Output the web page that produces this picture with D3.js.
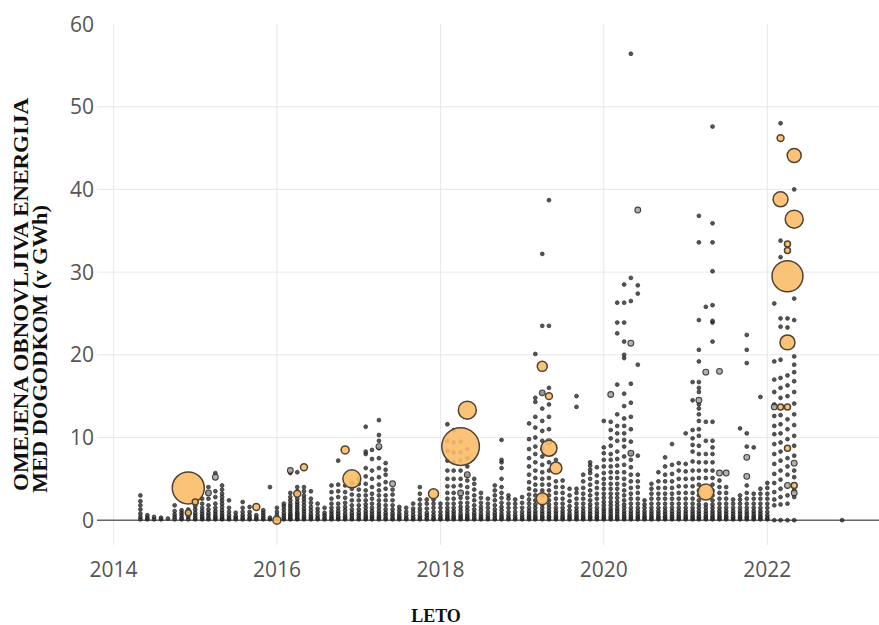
<!DOCTYPE html>
<html>
<head>
<meta charset="utf-8">
<script src="https://cdn.jsdelivr.net/npm/d3@7"></script>
<style>
  body { margin: 0; background: #fff; }
  svg { display: block; }
</style>
</head>
<body>
<svg id="chart" width="879" height="625"></svg>
<script>
// tick labels
const yearTicks = [2014, 2016, 2018, 2020, 2022];
const energyTicks = [0, 10, 20, 30, 40, 50, 60];

// small events: month -> curtailed energy per event (GWh)
const monthColumns = [
  ['2014-05', '0.1 0.4 0.8 1.3 1.8 2.3 3.0'],
  ['2014-06', '0.1 0.3 0.6'],
  ['2014-07', '0.1 0.4'],
  ['2014-08', '0.1 0.3'],
  ['2014-09', '0.2'],
  ['2014-10', '0.1 0.4 0.7 1.1 1.8'],
  ['2014-11', '0.1 0.3 0.6 0.9 1.2'],
  ['2014-12', '0.1 0.4 0.7 1.0 1.3'],
  ['2015-01', '0.1 0.3 0.6 0.9 1.3 1.7 2.2'],
  ['2015-02', '0.1 0.3 0.5 0.8 1.1 1.5 2.0 2.6'],
  ['2015-03', '0.1 0.3 0.6 0.9 1.3 1.8 2.6 3.3 4.0'],
  ['2015-04', '0.1 0.3 0.5 0.8 1.1 1.5 2.0 2.8 3.5 5.7'],
  ['2015-05', '0.1 0.2 0.4 0.6 0.9 1.2 1.6 2.0 2.4 2.8 3.2 3.7 4.2'],
  ['2015-06', '0.1 0.3 0.6 1.0 1.5 2.4'],
  ['2015-07', '0.1 0.3 0.5 0.9'],
  ['2015-08', '0.1 0.3 0.6 1.0 1.5 2.2'],
  ['2015-09', '0.1 0.3 0.6 1.0 1.6'],
  ['2015-10', '0.1 0.3 0.6'],
  ['2015-11', '0.1 0.3 0.6 0.9 1.2'],
  ['2015-12', '0.1 0.3 4.0'],
  ['2016-01', '0.1 0.3 0.6 1.0 1.5'],
  ['2016-02', '0.1 0.3 0.6 0.9 1.3 1.7 2.0'],
  ['2016-03', '0.1 0.2 0.4 0.6 0.8 1.1 1.4 1.7 2.0 2.4 2.8 3.3 5.7'],
  ['2016-04', '0.1 0.2 0.4 0.6 0.8 1.0 1.3 1.6 1.9 2.2 2.6 3.0 3.5 4.0 5.8'],
  ['2016-05', '0.1 0.3 0.5 0.8 1.1 1.4 1.8 2.2 2.6 3.0 3.5 4.0'],
  ['2016-06', '0.1 0.3 0.5 0.8 1.2 1.6 2.1 2.6 3.5'],
  ['2016-07', '0.1 0.3 0.6 1.0 1.4 2.0'],
  ['2016-08', '0.1 0.3 0.6 0.9 1.5'],
  ['2016-09', '0.1 0.3 0.5 0.8 1.1 1.5 2.0 2.6 3.4 4.2'],
  ['2016-10', '0.1 0.3 0.5 0.8 1.1 1.5 2.0 2.8 3.5 4.3 7.2'],
  ['2016-11', '0.1 0.3 0.5 0.8 1.2 1.6 2.1 2.7 3.4 4.2'],
  ['2016-12', '0.1 0.3 0.6 0.9 1.3 1.8 2.4 3.1 3.8 4.5'],
  ['2017-01', '0.1 0.3 0.6 0.9 1.3 1.8 2.4 3.0 3.7 4.4 5.0'],
  ['2017-02', '0.1 0.3 0.5 0.8 1.1 1.5 1.9 2.4 3.0 3.6 4.4 5.3 6.3 8.0 8.3 11.3'],
  ['2017-03', '0.1 0.3 0.5 0.8 1.1 1.5 2.0 2.6 3.2 4.0 5.0 6.0 7.4 8.5'],
  ['2017-04', '0.1 0.3 0.5 0.8 1.1 1.5 1.9 2.4 3.0 3.6 4.3 5.2 6.3 7.5 8.7 9.6 10.3 12.1'],
  ['2017-05', '0.1 0.3 0.6 0.9 1.3 1.8 2.4 3.0 3.8 4.6 5.5 6.1 6.9'],
  ['2017-06', '0.1 0.3 0.6 0.9 1.3 1.8 2.4 3.1 3.7'],
  ['2017-07', '0.1 0.3 0.5 0.8 1.2 1.6'],
  ['2017-08', '0.1 0.3 0.6 1.0 1.5'],
  ['2017-09', '0.1 0.3 0.6 1.0 1.4 2.0'],
  ['2017-10', '0.1 0.3 0.6 1.0 1.4 1.9 2.5 3.2 4.0'],
  ['2017-11', '0.1 0.3 0.6 0.9 1.4 2.0 2.5'],
  ['2017-12', '0.1 0.3 0.6 1.0 1.5 2.0 2.5'],
  ['2018-01', '0.1 0.3 0.6 1.0 1.5 2.0'],
  ['2018-02', '0.1 0.3 0.5 0.8 1.1 1.5 2.0 2.6 3.3 4.1 5.0 6.0 7.2 8.4 9.6 11.6'],
  ['2018-03', '0.1 0.3 0.5 0.8 1.1 1.5 2.0 2.6 3.3 4.1 5.0 6.0 7.0 8.2 9.4 10.9'],
  ['2018-04', '0.1 0.3 0.5 0.8 1.2 1.6 2.1 2.7 3.4 4.2 5.0 6.0 7.2 8.2 9.5'],
  ['2018-05', '0.1 0.3 0.5 0.8 1.2 1.6 2.1 2.7 3.3 4.0 4.8 5.5 6.5 7.5 8.6'],
  ['2018-06', '0.1 0.3 0.6 0.9 1.3 1.8 2.4 3.0 3.7 4.4 5.0'],
  ['2018-07', '0.1 0.3 0.5 0.8 1.2 1.6 2.1 2.7 3.3'],
  ['2018-08', '0.1 0.3 0.6 1.0 1.5 2.0 2.6'],
  ['2018-09', '0.1 0.3 0.6 0.9 1.3 1.8 2.4 3.0 3.6 4.2'],
  ['2018-10', '0.1 0.3 0.5 0.8 1.2 1.6 2.1 2.7 3.3 4.0 5.0 6.3 7.0 7.3 9.7'],
  ['2018-11', '0.1 0.3 0.6 1.0 1.5 2.0 2.6 3.0'],
  ['2018-12', '0.1 0.3 0.6 1.0 1.5 2.0 2.5'],
  ['2019-01', '0.1 0.3 0.6 1.0 1.5 2.1 2.8'],
  ['2019-02', '0.1 0.3 0.5 0.8 1.1 1.5 2.0 2.5 3.1 3.8 4.6 5.5 6.5 7.5 8.6 9.8 11.7'],
  ['2019-03', '0.1 0.3 0.5 0.8 1.1 1.5 1.9 2.4 3.0 3.6 4.3 5.1 6.0 7.0 8.0 8.9 10.0 11.2 12.5 14.3 14.8 20.1'],
  ['2019-04', '0.1 0.3 0.5 0.8 1.1 1.5 1.9 3.0 3.6 4.3 5.0 5.8 6.7 7.7 8.6 9.6 10.8 12.0 13.5 15.4 23.5 32.2'],
  ['2019-05', '0.1 0.3 0.5 0.8 1.1 1.5 1.9 2.4 3.0 3.6 4.3 5.1 6.0 7.0 11.0 12.5 14.0 16.0 23.5 38.7'],
  ['2019-06', '0.1 0.3 0.5 0.8 1.1 1.5 2.0 2.6 3.3 4.0 4.7 7.3'],
  ['2019-07', '0.1 0.3 0.5 0.8 1.1 1.5 2.0 2.6 3.3 4.0 4.8'],
  ['2019-08', '0.1 0.3 0.5 0.8 1.2 1.7 2.3 3.0 3.8'],
  ['2019-09', '0.1 0.3 0.5 0.8 1.1 1.5 2.0 2.6 3.3 3.8 13.7 15.0'],
  ['2019-10', '0.1 0.3 0.5 0.8 1.1 1.5 2.0 2.6 3.2 3.9 4.7 5.5'],
  ['2019-11', '0.1 0.3 0.5 0.8 1.1 1.5 1.9 2.4 3.0 3.6 4.3 5.0 5.7 6.1 6.6 7.0'],
  ['2019-12', '0.1 0.3 0.5 0.8 1.1 1.5 2.0 2.6 3.2 3.9 4.6 5.4 6.4'],
  ['2020-01', '0.1 0.3 0.5 0.8 1.1 1.4 1.8 2.2 2.7 3.2 3.8 4.4 5.0 5.7 6.5 7.3 8.1 8.8 12.0'],
  ['2020-02', '0.1 0.3 0.5 0.8 1.1 1.4 1.8 2.2 2.7 3.2 3.8 4.4 5.1 5.8 6.5 7.3 8.0 9.0 9.9 10.9 11.9'],
  ['2020-03', '0.1 0.3 0.5 0.8 1.1 1.4 1.8 2.2 2.7 3.2 3.8 4.4 5.1 5.8 6.6 7.4 8.3 9.6 10.5 11.4 12.8 16.4 22.6 23.9 26.3'],
  ['2020-04', '0.1 0.3 0.5 0.8 1.1 1.5 1.9 2.4 3.0 3.6 4.3 5.0 5.8 6.7 7.7 8.9 9.7 10.5 11.4 12.3 13.8 15.3 19.6 20.0 21.6 23.9 26.3 28.5'],
  ['2020-05', '0.1 0.3 0.5 0.8 1.1 1.5 2.0 2.6 3.2 3.9 4.7 5.5 6.4 7.3 8.1 9.5 11.0 12.5 14.2 16.5 26.5 29.3 56.4'],
  ['2020-06', '0.1 0.3 0.5 0.8 1.1 1.5 2.0 2.6 3.3 4.0 4.7 5.5 7.8 18.8 27.4 28.4'],
  ['2020-07', '0.1 0.3 0.5 0.8 1.1 1.5 1.9 2.4'],
  ['2020-08', '0.1 0.3 0.5 0.8 1.1 1.5 2.0 2.6 3.2 3.8 4.4'],
  ['2020-09', '0.1 0.3 0.5 0.8 1.1 1.5 2.0 2.6 3.2 3.9 4.7 5.8'],
  ['2020-10', '0.1 0.3 0.5 0.8 1.1 1.5 2.0 2.6 3.2 3.9 4.7 5.5 6.5 7.6'],
  ['2020-11', '0.1 0.3 0.5 0.8 1.1 1.5 2.0 2.6 3.2 3.9 4.7 5.6 6.7 9.2'],
  ['2020-12', '0.1 0.3 0.5 0.8 1.1 1.5 2.0 2.6 3.3 4.1 5.0 6.0 6.9'],
  ['2021-01', '0.1 0.3 0.5 0.8 1.1 1.5 2.0 2.6 3.3 4.1 5.0 5.9 6.8 10.5'],
  ['2021-02', '0.1 0.3 0.5 0.8 1.1 1.5 2.0 2.6 3.3 4.1 5.0 6.0 7.1 8.3 9.1 9.9 10.9 14.5 16.7'],
  ['2021-03', '0.1 0.3 0.5 0.8 1.1 1.5 1.9 2.4 3.0 3.6 4.3 5.1 6.0 7.0 8.0 9.0 10.2 11.0 12.0 12.8 13.5 14.0 15.5 16.0 16.7 19.2 20.6 24.2 33.6 36.8'],
  ['2021-04', '0.1 0.3 0.5 0.8 1.1 1.5 1.9 5.1 6.0 7.0 8.0 9.6 11.9 25.8'],
  ['2021-05', '0.1 0.3 0.5 0.8 1.1 1.5 1.9 2.4 3.0 3.6 4.3 5.1 6.0 7.0 8.0 8.8 9.6 11.9 21.6 23.9 24.1 26.0 30.1 33.6 35.9 47.6'],
  ['2021-06', '0.1 0.3 0.5 0.8 1.1 1.5 2.0 2.6 3.3 4.0 4.8'],
  ['2021-07', '0.1 0.3 0.5 0.8 1.1 1.5 2.0 2.6 3.3 4.0'],
  ['2021-08', '0.1 0.3 0.5 0.8 1.1 1.5 2.0 2.5'],
  ['2021-09', '0.1 0.3 0.5 0.8 1.1 1.5 2.0 2.5 3.0 11.1'],
  ['2021-10', '0.1 0.3 0.5 0.8 1.1 1.5 2.0 2.6 3.3 4.2 8.9 10.5 19.0 20.6 22.4'],
  ['2021-11', '0.1 0.3 0.5 0.8 1.1 1.5 2.0 2.6 3.2 8.8'],
  ['2021-12', '0.1 0.3 0.5 0.8 1.1 1.5 2.0 2.6 3.2 3.8 14.9'],
  ['2022-01', '0.1 0.3 0.6 1.0 1.5 2.0 2.6 3.2 3.9 4.5'],
  ['2022-02', '0.0 1.8 2.5 3.4 4.5 5.6 6.8 8.0 9.2 10.4 11.4 12.6 14.0 15.5 17.0 19.2 26.2'],
  ['2022-03', '0.0 1.9 2.8 3.8 4.9 6.0 7.2 8.3 9.4 10.5 11.6 12.7 14.8 16.0 17.2 19.4 23.4 24.4 31.8 33.8 48.0'],
  ['2022-04', '0.0 2.0 3.0 5.5 6.5 7.5 9.8 11.0 12.2 15.0 16.3 17.5 23.3 24.4'],
  ['2022-05', '0.0 2.8 3.6 5.2 6.0 7.8 9.0 10.2 11.5 12.8 14.1 15.5 16.8 17.9 18.8 19.8 24.2 26.8 40.0'],
  ['2022-12', '0.0'],
];

// medium events drawn as hollow grey rings: [month, GWh]
const ringPoints = [
  ['2015-04', 5.2], ['2015-03', 3.3], ['2016-03', 6.0], ['2017-06', 4.4],
  ['2017-04', 8.9], ['2018-05', 5.5], ['2018-04', 3.3], ['2019-05', 9.5],
  ['2019-04', 15.4], ['2020-02', 15.2], ['2020-05', 21.4], ['2020-06', 37.5],
  ['2021-04', 17.9], ['2021-06', 18.0], ['2021-06', 5.7], ['2021-07', 5.7],
  ['2021-10', 7.6], ['2021-10', 5.3], ['2022-05', 6.9], ['2022-05', 3.3],
  ['2022-04', 4.2], ['2022-02', 13.7], ['2021-03', 14.5], ['2020-05', 8.1],
];

// large events (orange bubbles): [month, GWh, duration weight]
const bubblePoints = [
  ['2014-12', 3.9, 256], ['2014-12', 0.9, 9], ['2015-01', 2.2, 9],
  ['2015-10', 1.6, 12], ['2016-01', 0.0, 16], ['2016-04', 3.2, 12],
  ['2016-05', 6.4, 12], ['2016-11', 8.5, 16], ['2016-12', 5.0, 81],
  ['2017-12', 3.2, 25], ['2018-04', 8.9, 353], ['2018-05', 13.3, 81],
  ['2019-04', 18.6, 25], ['2019-04', 2.6, 36], ['2019-05', 15.0, 12],
  ['2019-05', 8.7, 64], ['2019-06', 6.3, 36], ['2021-04', 3.4, 64],
  ['2022-03', 46.2, 12], ['2022-03', 38.8, 56], ['2022-05', 44.1, 49],
  ['2022-05', 36.4, 81], ['2022-04', 33.4, 9], ['2022-04', 32.6, 9],
  ['2022-04', 29.5, 240], ['2022-04', 21.5, 56], ['2022-03', 13.7, 9],
  ['2022-04', 13.7, 9], ['2022-04', 8.7, 9], ['2022-05', 4.2, 9],
];

const parseMonth = d3.timeParse('%Y-%m');
const svg = d3.select('#chart');
const width = 879;

const x = d3.scaleTime()
  .domain([new Date(2013, 9, 19), new Date(2023, 4, 15)])
  .range([97, width]);
const y = d3.scaleLinear().domain([-3, 60]).range([545, 24]);
const r = d3.scaleSqrt().domain([0, 400]).range([0, 20]);

// grid
svg.append('g')
  .selectAll('line')
  .data(yearTicks)
  .join('line')
    .attr('x1', d => x(new Date(d, 0, 1)))
    .attr('x2', d => x(new Date(d, 0, 1)))
    .attr('y1', y(60))
    .attr('y2', y(-3))
    .attr('stroke', '#e8e8e8');

svg.append('g')
  .selectAll('line')
  .data(energyTicks.filter(d => d > 0 && d < 60))
  .join('line')
    .attr('x1', x.range()[0])
    .attr('x2', x.range()[1])
    .attr('y1', d => y(d))
    .attr('y2', d => y(d))
    .attr('stroke', '#e8e8e8');

svg.append('line')
  .attr('x1', x.range()[0])
  .attr('x2', x.range()[1])
  .attr('y1', y(0))
  .attr('y2', y(0))
  .attr('stroke', '#666')
  .attr('stroke-width', 1.5);

// tick labels
const tickFont = '"Open Sans", Roboto, sans-serif';
svg.append('g')
  .selectAll('text')
  .data(energyTicks)
  .join('text')
    .attr('x', 94)
    .attr('y', d => y(d))
    .attr('dy', '0.36em')
    .attr('text-anchor', 'end')
    .attr('font-family', tickFont)
    .attr('font-size', 21)
    .attr('fill', '#555')
    .text(d => d);

svg.append('g')
  .selectAll('text')
  .data(yearTicks)
  .join('text')
    .attr('x', d => x(new Date(d, 0, 1)))
    .attr('y', 577)
    .attr('text-anchor', 'middle')
    .attr('font-family', tickFont)
    .attr('font-size', 21)
    .attr('fill', '#555')
    .text(d => d);

// points
const smallPoints = monthColumns.flatMap(([month, values]) =>
  values.split(' ').map(v => ({date: parseMonth(month), value: +v})));

svg.append('g')
  .selectAll('circle')
  .data(smallPoints)
  .join('circle')
    .attr('cx', d => x(d.date))
    .attr('cy', d => y(d.value))
    .attr('r', 1.9)
    .attr('fill', '#3a3a3a')
    .attr('stroke', '#111')
    .attr('stroke-width', 0.8)
    .attr('opacity', 0.85);

svg.append('g')
  .selectAll('circle')
  .data(ringPoints)
  .join('circle')
    .attr('cx', d => x(parseMonth(d[0])))
    .attr('cy', d => y(d[1]))
    .attr('r', 2.9)
    .attr('fill', '#a9a49c')
    .attr('stroke', '#222')
    .attr('stroke-width', 1.1)
    .attr('opacity', 0.85);

svg.append('g')
  .selectAll('circle')
  .data(bubblePoints.slice().sort((a, b) => b[2] - a[2]))
  .join('circle')
    .attr('cx', d => x(parseMonth(d[0])))
    .attr('cy', d => y(d[1]))
    .attr('r', d => r(d[2]))
    .attr('fill', '#fbbd69')
    .attr('fill-opacity', 0.9)
    .attr('stroke', '#4f4233')
    .attr('stroke-width', 1.5);

// axis titles
const titleFont = '"Liberation Serif", "Times New Roman", serif';
const yTitle = svg.append('g')
  .attr('font-family', titleFont)
  .attr('font-weight', 'bold')
  .attr('font-size', 20)
  .attr('fill', '#111');

yTitle.append('text')
  .attr('transform', 'translate(28,491) rotate(-90)')
  .attr('textLength', 393)
  .attr('lengthAdjust', 'spacingAndGlyphs')
  .text('OMEJENA OBNOVLJIVA ENERGIJA');

yTitle.append('text')
  .attr('transform', 'translate(47,493) rotate(-90)')
  .attr('textLength', 288)
  .attr('lengthAdjust', 'spacingAndGlyphs')
  .text('MED DOGODKOM (v GWh)');

svg.append('text')
  .attr('x', 436)
  .attr('y', 622)
  .attr('text-anchor', 'middle')
  .attr('font-family', titleFont)
  .attr('font-weight', 'bold')
  .attr('font-size', 18)
  .attr('fill', '#111')
  .text('LETO');
</script>
</body>
</html>
